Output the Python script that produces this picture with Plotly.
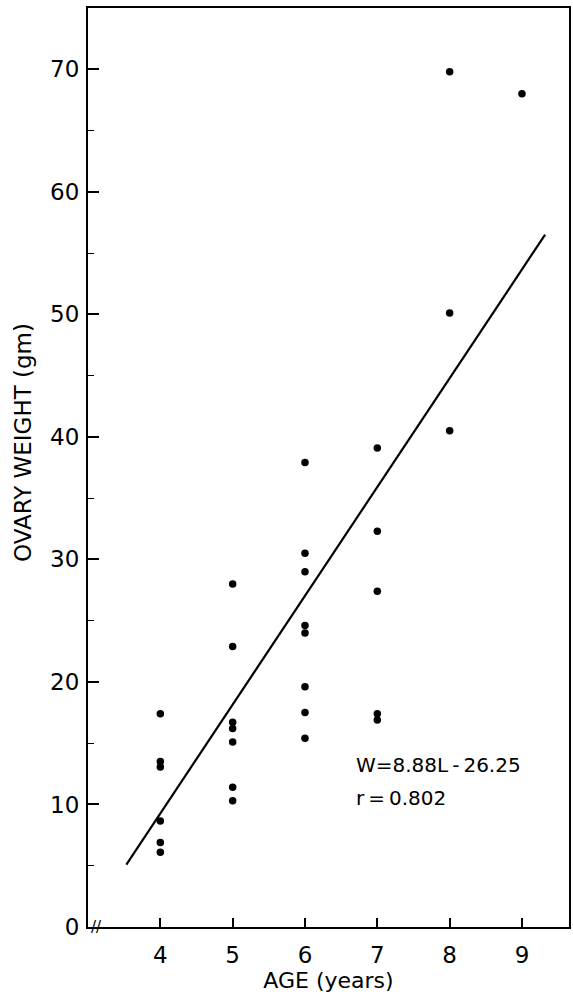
import plotly.graph_objects as go

# ---- data ----
age = [4, 4, 4, 4, 4, 4,
       5, 5, 5, 5, 5, 5, 5,
       6, 6, 6, 6, 6, 6, 6, 6,
       7, 7, 7, 7, 7,
       8, 8, 8,
       9]
weight = [17.4, 13.5, 13.05, 8.65, 6.9, 6.1,
          28.0, 22.9, 16.7, 16.2, 15.1, 11.4, 10.3,
          37.9, 30.5, 29.0, 24.6, 24.0, 19.6, 17.5, 15.4,
          39.1, 32.3, 27.4, 17.4, 16.9,
          69.8, 50.1, 40.5,
          68.0]

slope = 8.88
intercept = -26.25
r_value = 0.802
fit_x = [3.53, 9.32]
fit_y = [slope * v + intercept for v in fit_x]

x_ticks = [4, 5, 6, 7, 8, 9]
y_ticks = [0, 10, 20, 30, 40, 50, 60, 70]

FONT = "DejaVu Sans"
TS = "\u2009"  # thin space

fig = go.Figure()
fig.add_trace(go.Scatter(x=fit_x, y=fit_y, mode="lines",
                         line=dict(color="black", width=2.2), showlegend=False))
fig.add_trace(go.Scatter(x=age, y=weight, mode="markers",
                         marker=dict(color="black", size=7.5), showlegend=False))

fig.update_layout(
    width=573, height=994,
    margin=dict(l=88, r=2, t=8, b=67),
    plot_bgcolor="white", paper_bgcolor="white",
    font=dict(family=FONT, color="black"),
    xaxis=dict(range=[3.0, 9.65], tickvals=x_ticks, ticks="inside", ticklen=9,
               tickwidth=1.5, tickcolor="black", showgrid=False, zeroline=False,
               showline=True, mirror=True, linewidth=2, linecolor="black",
               tickfont=dict(size=23, family=FONT), ticklabelstandoff=6,
               title=dict(text="AGE (years)", font=dict(size=22, family=FONT), standoff=4)),
    yaxis=dict(range=[0, 75], tickvals=y_ticks, ticks="inside", ticklen=11,
               tickwidth=1.5, tickcolor="black", showgrid=False, zeroline=False,
               showline=True, mirror=True, linewidth=2, linecolor="black",
               tickfont=dict(size=23, family=FONT), ticklabelstandoff=2,
               minor=dict(dtick=5, tick0=0, ticks="inside", ticklen=6,
                          tickwidth=1.2, tickcolor="black", showgrid=False)),
)

fig.add_annotation(text="OVARY WEIGHT (gm)", textangle=-90, xref="paper", yref="y",
                   x=-0.135, y=39.5, xanchor="center", yanchor="middle", showarrow=False,
                   font=dict(size=23, family=FONT))
fig.add_annotation(text=f"W={slope:.2f}L{TS}-{TS}{abs(intercept):.2f}", xref="x", yref="y",
                   x=6.68, y=13.2, xanchor="left", yanchor="middle", showarrow=False,
                   font=dict(size=20, family=FONT))
fig.add_annotation(text=f"r{TS}={TS}{r_value:.3f}", xref="x", yref="y",
                   x=6.68, y=10.5, xanchor="left", yanchor="middle", showarrow=False,
                   font=dict(size=20, family=FONT))
# axis break mark
fig.add_annotation(text="//", xref="x", yref="y", x=3.12, y=0, showarrow=False,
                   font=dict(size=15, family=FONT), yanchor="middle")

fig.write_html("out.html")
